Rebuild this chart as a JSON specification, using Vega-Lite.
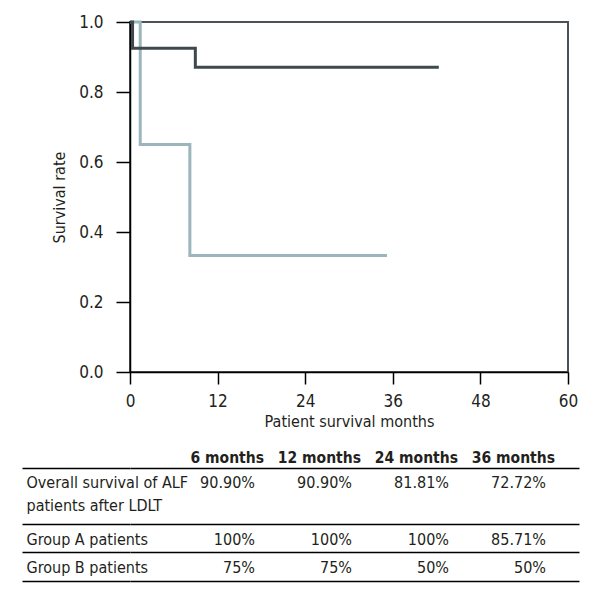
{
  "$schema": "https://vega.github.io/schema/vega-lite/v6.json",
  "padding": {"left": 21, "top": 12, "right": 5, "bottom": 5},
  "spacing": 20,
  "datasets": {
    "km": [
      {"group": "Group B", "month": 0, "survival": 1},
      {"group": "Group B", "month": 1.4, "survival": 0.65},
      {"group": "Group B", "month": 8.2, "survival": 0.333},
      {"group": "Group B", "month": 35.2, "survival": 0.333},
      {"group": "Group A", "month": 0, "survival": 1},
      {"group": "Group A", "month": 0.35, "survival": 0.925},
      {"group": "Group A", "month": 8.95, "survival": 0.871},
      {"group": "Group A", "month": 42.3, "survival": 0.871}
    ],
    "table": [
      {"row": "Overall survival of ALF", "col": "6 months", "value": "90.90%"},
      {"row": "Overall survival of ALF", "col": "12 months", "value": "90.90%"},
      {"row": "Overall survival of ALF", "col": "24 months", "value": "81.81%"},
      {"row": "Overall survival of ALF", "col": "36 months", "value": "72.72%"},
      {"row": "Group A patients", "col": "6 months", "value": "100%"},
      {"row": "Group A patients", "col": "12 months", "value": "100%"},
      {"row": "Group A patients", "col": "24 months", "value": "100%"},
      {"row": "Group A patients", "col": "36 months", "value": "85.71%"},
      {"row": "Group B patients", "col": "6 months", "value": "75%"},
      {"row": "Group B patients", "col": "12 months", "value": "75%"},
      {"row": "Group B patients", "col": "24 months", "value": "50%"},
      {"row": "Group B patients", "col": "36 months", "value": "50%"}
    ]
  },
  "config": {
    "font": "DejaVu Sans Condensed, Roboto Condensed, Liberation Sans",
    "view": {"stroke": null},
    "axis": {
      "labelFont": "DejaVu Sans Condensed, Roboto Condensed, Liberation Sans",
      "titleFont": "DejaVu Sans Condensed, Roboto Condensed, Liberation Sans",
      "labelFontSize": 17,
      "titleFontSize": 16,
      "labelColor": "#231f20",
      "titleColor": "#231f20",
      "titleFontWeight": "normal",
      "domainColor": "#000000",
      "tickColor": "#000000",
      "domainWidth": 1.5,
      "tickWidth": 1.5,
      "grid": false
    }
  },
  "vconcat": [
    {
      "width": 438,
      "height": 350,
      "view": {"stroke": "#4b5257", "strokeWidth": 2},
      "data": {"name": "km"},
      "mark": {"type": "line", "interpolate": "step-after", "strokeWidth": 3},
      "encoding": {
        "x": {
          "field": "month",
          "type": "quantitative",
          "scale": {"domain": [0, 60], "nice": false, "zero": false},
          "axis": {
            "values": [0, 12, 24, 36, 48, 60],
            "title": "Patient survival months",
            "tickSize": 12,
            "labelFlush": false,
            "labelPadding": 9,
            "titlePadding": 4
          }
        },
        "y": {
          "field": "survival",
          "type": "quantitative",
          "scale": {"domain": [0, 1], "nice": false},
          "axis": {
            "values": [0, 0.2, 0.4, 0.6, 0.8, 1],
            "format": ".1f",
            "title": "Survival rate",
            "tickSize": 14,
            "labelFlush": false,
            "labelPadding": 13,
            "titlePadding": 11
          }
        },
        "color": {
          "field": "group",
          "type": "nominal",
          "scale": {"domain": ["Group B", "Group A"], "range": ["#9bb5bc", "#3e484d"]},
          "legend": null
        }
      }
    },
    {
      "width": 449,
      "height": 113,
      "data": {"name": "table"},
      "mark": {"type": "text", "align": "right", "baseline": "middle", "fontSize": 16, "dy": 1, "color": "#231f20"},
      "encoding": {
        "x": {
          "field": "col",
          "type": "ordinal",
          "bandPosition": 0.974,
          "scale": {"type": "band", "domain": ["6 months", "12 months", "24 months", "36 months"], "paddingInner": 0, "paddingOuter": 0.3145},
          "axis": {
            "orient": "top",
            "title": null,
            "ticks": false,
            "tickSize": 0,
            "domain": false,
            "labelAngle": 0,
            "labelOverlap": false,
            "labelFontSize": 15.5,
            "labelFontWeight": "bold",
            "labelAlign": "right",
            "labelBaseline": "bottom",
            "labelOffset": 55,
            "labelPadding": 3
          }
        },
        "y": {
          "field": "row",
          "type": "nominal",
          "scale": {"type": "band", "domain": ["Overall survival of ALF", "patients after LDLT", "Group A patients", "Group B patients"], "paddingInner": 0, "paddingOuter": 0},
          "axis": {
            "title": null,
            "domain": false,
            "grid": true,
            "gridColor": "#000000",
            "gridWidth": 1.5,
            "gridOpacity": {"condition": {"test": "datum.value === 'Overall survival of ALF'", "value": 0}, "value": 1},
            "tickOpacity": {"condition": {"test": "datum.value === 'Overall survival of ALF'", "value": 0}, "value": 1},
            "tickSize": 108,
            "bandPosition": 1,
            "tickExtra": true,
            "labelFontSize": 16,
            "labelAlign": "left",
            "labelPadding": -4,
            "labelLimit": 400,
            "labelOffset": {"condition": {"test": "datum.value === 'patients after LDLT'", "value": 4}, "value": 1},
            "labelBaseline": {"condition": {"test": "datum.value === 'patients after LDLT'", "value": "bottom"}, "value": "middle"}
          }
        },
        "text": {"field": "value"}
      }
    }
  ]
}
